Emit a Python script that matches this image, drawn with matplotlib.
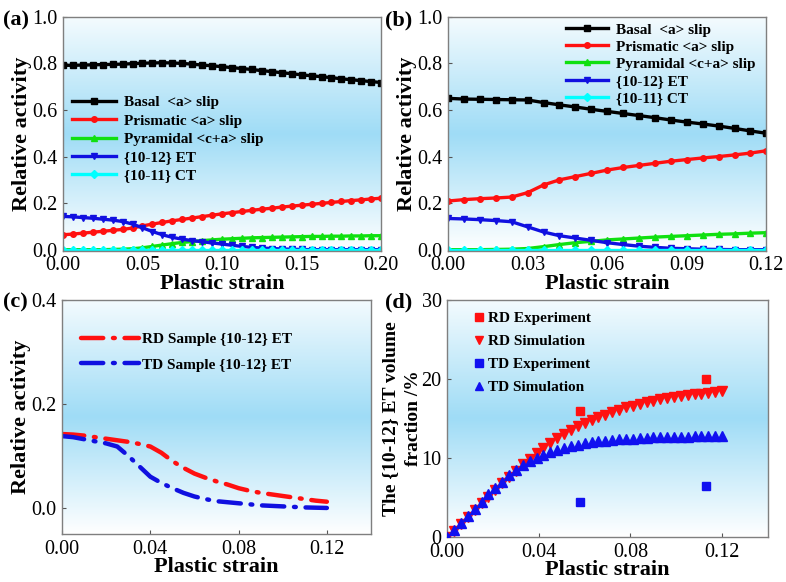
import numpy as np
import matplotlib
matplotlib.use("Agg")
import matplotlib.pyplot as plt
from matplotlib.colors import LinearSegmentedColormap

plt.rcParams['font.family'] = ['Liberation Serif', 'DejaVu Serif']
plt.rcParams['mathtext.fontset'] = 'stix'

# ---------------- data ----------------
# panel (a)
strain_a = [0.0, 0.00625, 0.0125, 0.01875, 0.025, 0.03125, 0.0375, 0.04375, 0.05, 0.05625,
            0.0625, 0.06875, 0.075, 0.08125, 0.0875, 0.09375, 0.1, 0.10625, 0.1125, 0.11875,
            0.125, 0.13125, 0.1375, 0.14375, 0.15, 0.15625, 0.1625, 0.16875, 0.175, 0.18125,
            0.1875, 0.19375, 0.2]
basal_a = [0.792, 0.792, 0.793, 0.794, 0.795, 0.796, 0.797, 0.799, 0.801, 0.802,
           0.803, 0.802, 0.800, 0.797, 0.793, 0.790, 0.786, 0.782, 0.778, 0.774,
           0.769, 0.765, 0.760, 0.756, 0.751, 0.747, 0.743, 0.739, 0.734, 0.730,
           0.726, 0.722, 0.718]
prism_a = [0.064, 0.067, 0.071, 0.075, 0.079, 0.083, 0.087, 0.093, 0.102, 0.110,
           0.117, 0.124, 0.130, 0.136, 0.142, 0.148, 0.154, 0.159, 0.164, 0.169,
           0.174, 0.178, 0.183, 0.187, 0.191, 0.195, 0.199, 0.203, 0.207, 0.211,
           0.214, 0.218, 0.221]
pyram_a = [0.0, 0.0, 0.0, 0.0, 0.0, 0.001, 0.002, 0.004, 0.008, 0.014,
           0.020, 0.026, 0.031, 0.035, 0.039, 0.042, 0.045, 0.047, 0.049, 0.051,
           0.052, 0.053, 0.054, 0.055, 0.056, 0.057, 0.057, 0.058, 0.058, 0.059,
           0.059, 0.060, 0.060]
et_a = [0.143, 0.141, 0.138, 0.135, 0.131, 0.127, 0.121, 0.110, 0.094, 0.078,
        0.064, 0.053, 0.045, 0.039, 0.034, 0.029, 0.024, 0.019, 0.014, 0.010,
        0.007, 0.005, 0.003, 0.002, 0.001, 0.0, 0.0, 0.0, 0.0, 0.0,
        0.0, 0.0, 0.0]
ct_a = [0.0] * 33

# panel (b)
strain_b = [0.0, 0.006, 0.012, 0.018, 0.024, 0.03, 0.036, 0.042, 0.048, 0.054, 0.06,
            0.066, 0.072, 0.078, 0.084, 0.09, 0.096, 0.102, 0.108, 0.114, 0.12]
basal_b = [0.650, 0.647, 0.646, 0.645, 0.644, 0.643, 0.632, 0.622, 0.613, 0.603, 0.594,
           0.585, 0.576, 0.567, 0.557, 0.548, 0.540, 0.531, 0.521, 0.510, 0.500]
prism_b = [0.209, 0.215, 0.219, 0.222, 0.226, 0.245, 0.278, 0.300, 0.314, 0.328, 0.342,
           0.353, 0.362, 0.371, 0.380, 0.387, 0.394, 0.400, 0.407, 0.415, 0.425]
pyram_b = [0.0, 0.0, 0.0, 0.001, 0.002, 0.005, 0.013, 0.022, 0.030, 0.036, 0.042,
           0.046, 0.050, 0.054, 0.057, 0.060, 0.063, 0.066, 0.068, 0.071, 0.073]
et_b = [0.134, 0.132, 0.129, 0.125, 0.120, 0.098, 0.076, 0.060, 0.050, 0.040, 0.030,
        0.022, 0.015, 0.010, 0.006, 0.004, 0.002, 0.001, 0.0, 0.0, 0.0]
ct_b = [0.0] * 21

# panel (c)
strain_c = [0.0, 0.005, 0.01, 0.015, 0.02, 0.025, 0.03, 0.035, 0.04, 0.045, 0.05, 0.055,
            0.06, 0.065, 0.07, 0.075, 0.08, 0.085, 0.09, 0.095, 0.1, 0.105, 0.11, 0.115, 0.12]
rd_c = [0.142, 0.141, 0.139, 0.136, 0.133, 0.130, 0.127, 0.123, 0.118, 0.106, 0.090, 0.077,
        0.066, 0.058, 0.051, 0.045, 0.038, 0.033, 0.029, 0.026, 0.023, 0.020, 0.017, 0.014, 0.012]
td_c = [0.138, 0.136, 0.132, 0.128, 0.124, 0.118, 0.100, 0.080, 0.060, 0.048, 0.038, 0.029,
        0.022, 0.017, 0.013, 0.011, 0.009, 0.007, 0.005, 0.004, 0.003, 0.002, 0.001, 0.0005, 0.0]

# panel (d)
strain_d = [0.0, 0.003, 0.006, 0.009, 0.012, 0.015, 0.018, 0.021, 0.024, 0.027, 0.03,
            0.033, 0.036, 0.039, 0.042, 0.045, 0.048, 0.051, 0.054, 0.057, 0.06,
            0.063, 0.066, 0.069, 0.072, 0.075, 0.078, 0.081, 0.084, 0.087, 0.09,
            0.093, 0.096, 0.099, 0.102, 0.105, 0.108, 0.111, 0.114, 0.117, 0.12]
rd_sim = [0.0, 0.8, 1.7, 2.6, 3.4, 4.3, 5.1, 6.0, 6.8, 7.6, 8.4,
          9.2, 9.9, 10.6, 11.3, 11.9, 12.5, 13.0, 13.5, 14.0, 14.4,
          14.8, 15.2, 15.5, 15.8, 16.1, 16.4, 16.6, 16.85, 17.05, 17.25,
          17.4, 17.55, 17.7, 17.85, 17.95, 18.05, 18.15, 18.25, 18.35, 18.45]
td_sim = [0.0, 0.9, 1.8, 2.7, 3.6, 4.5, 5.4, 6.2, 7.0, 7.8, 8.5,
          9.1, 9.6, 10.0, 10.4, 10.7, 11.0, 11.3, 11.5, 11.7, 11.85,
          12.0, 12.1, 12.2, 12.3, 12.35, 12.4, 12.45, 12.5, 12.55, 12.6,
          12.62, 12.65, 12.68, 12.7, 12.72, 12.74, 12.76, 12.78, 12.8, 12.8]
exp_strain = [0.0578, 0.1129]
rd_exp = [16.0, 20.0]
td_exp = [4.5, 6.5]

# ---------------- figure ----------------
fig = plt.figure(figsize=(7.86, 5.82), dpi=100)

bg_cmap = LinearSegmentedColormap.from_list(
    'bg', [(0.0, '#ffffff'), (0.5, '#9fdcf6'), (1.0, '#f4fbfe')])

SERIF = ['Liberation Serif', 'DejaVu Serif']


def style_axes(ax):
    grad = np.linspace(0, 1, 256).reshape(-1, 1)
    ax.imshow(grad, cmap=bg_cmap, aspect='auto', extent=[0, 1, 0, 1],
              transform=ax.transAxes, zorder=0, origin='lower')
    for s in ax.spines.values():
        s.set_color('#7f7f7f')
        s.set_linewidth(1.0)
    ax.tick_params(direction='in', length=3, width=0.8, color='#555555',
                   labelsize=14.5, top=False, right=False, pad=4)


def finish_ticks(ax):
    for lab in ax.get_xticklabels() + ax.get_yticklabels():
        lab.set_fontfamily(SERIF)
        lab.set_fontsize(14.5)


lab_font = dict(fontsize=16, fontweight='bold')
leg_prop = dict(weight='bold', size=11, family=SERIF)

# (a)
ax_a = fig.add_axes([0.080, 0.569, 0.405, 0.402])
style_axes(ax_a)
kw = dict(lw=2.4, ms=4)
ax_a.plot(strain_a, basal_a, color='black', marker='s', label='Basal  <a> slip', **kw)
ax_a.plot(strain_a, prism_a, color='#ff1010', marker='o', label='Prismatic <a> slip', **kw)
ax_a.plot(strain_a, pyram_a, color='#10e010', marker='^', label='Pyramidal <c+a> slip', **kw)
ax_a.plot(strain_a, et_a, color='#1010e0', marker='v', label='{10-12} ET', **kw)
ax_a.plot(strain_a, ct_a, color='#00ffff', marker='D', label='{10-11} CT', **kw)
ax_a.set_xlim(0, 0.2)
ax_a.set_ylim(-0.005, 1.0)
ax_a.set_xticks([0.0, 0.05, 0.10, 0.15, 0.20])
ax_a.set_xticklabels(['0.00', '0.05', '0.10', '0.15', '0.20'])
ax_a.set_yticks([0.0, 0.2, 0.4, 0.6, 0.8, 1.0])
ax_a.set_yticklabels(['0.0', '0.2', '0.4', '0.6', '0.8', '1.0'])
finish_ticks(ax_a)
ax_a.set_xlabel('Plastic strain', labelpad=-1, **lab_font)
ax_a.set_ylabel('Relative activity', labelpad=0, **lab_font)
ax_a.legend(loc='center left', bbox_to_anchor=(0.0, 0.478), frameon=False, prop=leg_prop,
            handlelength=2.9, labelspacing=0.3, handletextpad=0.5, borderaxespad=0.2)
fig.text(0.004, 0.957, '(a)', fontsize=16, fontweight='bold')

# (b)
ax_b = fig.add_axes([0.570, 0.569, 0.405, 0.402])
style_axes(ax_b)
ax_b.plot(strain_b, basal_b, color='black', marker='s', label='Basal  <a> slip', **kw)
ax_b.plot(strain_b, prism_b, color='#ff1010', marker='o', label='Prismatic <a> slip', **kw)
ax_b.plot(strain_b, pyram_b, color='#10e010', marker='^', label='Pyramidal <c+a> slip', **kw)
ax_b.plot(strain_b, et_b, color='#1010e0', marker='v', label='{10-12} ET', **kw)
ax_b.plot(strain_b, ct_b, color='#00ffff', marker='D', label='{10-11} CT', **kw)
ax_b.set_xlim(0, 0.12)
ax_b.set_ylim(-0.005, 1.0)
ax_b.set_xticks([0.0, 0.03, 0.06, 0.09, 0.12])
ax_b.set_xticklabels(['0.00', '0.03', '0.06', '0.09', '0.12'])
ax_b.set_yticks([0.0, 0.2, 0.4, 0.6, 0.8, 1.0])
ax_b.set_yticklabels(['0.0', '0.2', '0.4', '0.6', '0.8', '1.0'])
finish_ticks(ax_b)
ax_b.set_xlabel('Plastic strain', labelpad=-1, **lab_font)
ax_b.set_ylabel('Relative activity', labelpad=0, **lab_font)
ax_b.legend(loc='upper right', bbox_to_anchor=(0.985, 1.0), frameon=False, prop=leg_prop,
            handlelength=2.8, labelspacing=0.22, handletextpad=0.5, borderaxespad=0.0)
fig.text(0.490, 0.957, '(b)', fontsize=16, fontweight='bold')

# (c)
ax_c = fig.add_axes([0.079, 0.0825, 0.393, 0.4025])
style_axes(ax_c)
dashdot = (0, (5, 2.2, 0.4, 2.2))
ax_c.plot(strain_c, rd_c, color='#ff1010', lw=3.2, linestyle=dashdot,
          dash_capstyle='round', label='RD Sample {10-12} ET')
ax_c.plot(strain_c, td_c, color='#1010e0', lw=3.2, linestyle=dashdot,
          dash_capstyle='round', label='TD Sample {10-12} ET')
ax_c.set_xlim(0, 0.14)
ax_c.set_ylim(-0.05, 0.4)
ax_c.set_xticks([0.0, 0.04, 0.08, 0.12])
ax_c.set_xticklabels(['0.00', '0.04', '0.08', '0.12'])
ax_c.set_yticks([0.0, 0.2, 0.4])
ax_c.set_yticklabels(['0.0', '0.2', '0.4'])
finish_ticks(ax_c)
ax_c.set_xlabel('Plastic strain', labelpad=-1, **lab_font)
ax_c.set_ylabel('Relative activity', labelpad=0, **lab_font)
ax_c.legend(loc='upper left', bbox_to_anchor=(0.04, 0.885), frameon=False, prop=leg_prop,
            handlelength=3.8, labelspacing=0.75, handletextpad=0.25, borderaxespad=0.0)
fig.text(0.004, 0.472, '(c)', fontsize=16, fontweight='bold')

# (d)
ax_d = fig.add_axes([0.569, 0.077, 0.408, 0.408])
style_axes(ax_d)
ax_d.plot(exp_strain, rd_exp, linestyle='none', marker='s', color='#ff1010', ms=6,
          label='RD Experiment', zorder=3)
ax_d.plot(strain_d, rd_sim, linestyle='none', marker='v', color='#ff1010', ms=6.5,
          label='RD Simulation', zorder=3)
ax_d.plot(exp_strain, td_exp, linestyle='none', marker='s', color='#1010f0', ms=6,
          label='TD Experiment', zorder=3)
ax_d.plot(strain_d, td_sim, linestyle='none', marker='^', color='#1010f0', ms=6.5,
          label='TD Simulation', zorder=3)
ax_d.set_xlim(0, 0.14)
ax_d.set_ylim(0, 30)
ax_d.set_xticks([0.0, 0.04, 0.08, 0.12])
ax_d.set_xticklabels(['0.00', '0.04', '0.08', '0.12'])
ax_d.set_yticks([0, 10, 20, 30])
ax_d.set_yticklabels(['0', '10', '20', '30'])
finish_ticks(ax_d)
ax_d.set_xlabel('Plastic strain', labelpad=-1, **lab_font)
ax_d.set_ylabel('The {10-12} ET volume\nfraction /%', labelpad=0, fontsize=14,
                fontweight='bold', linespacing=1.4)
ax_d.legend(loc='upper left', bbox_to_anchor=(0.065, 0.975), frameon=False, prop=leg_prop,
            handlelength=0.6, labelspacing=0.6, handletextpad=0.3, borderaxespad=0.0,
            markerscale=0.85)
fig.text(0.490, 0.472, '(d)', fontsize=16, fontweight='bold')

fig.savefig('out.png', dpi=100)
